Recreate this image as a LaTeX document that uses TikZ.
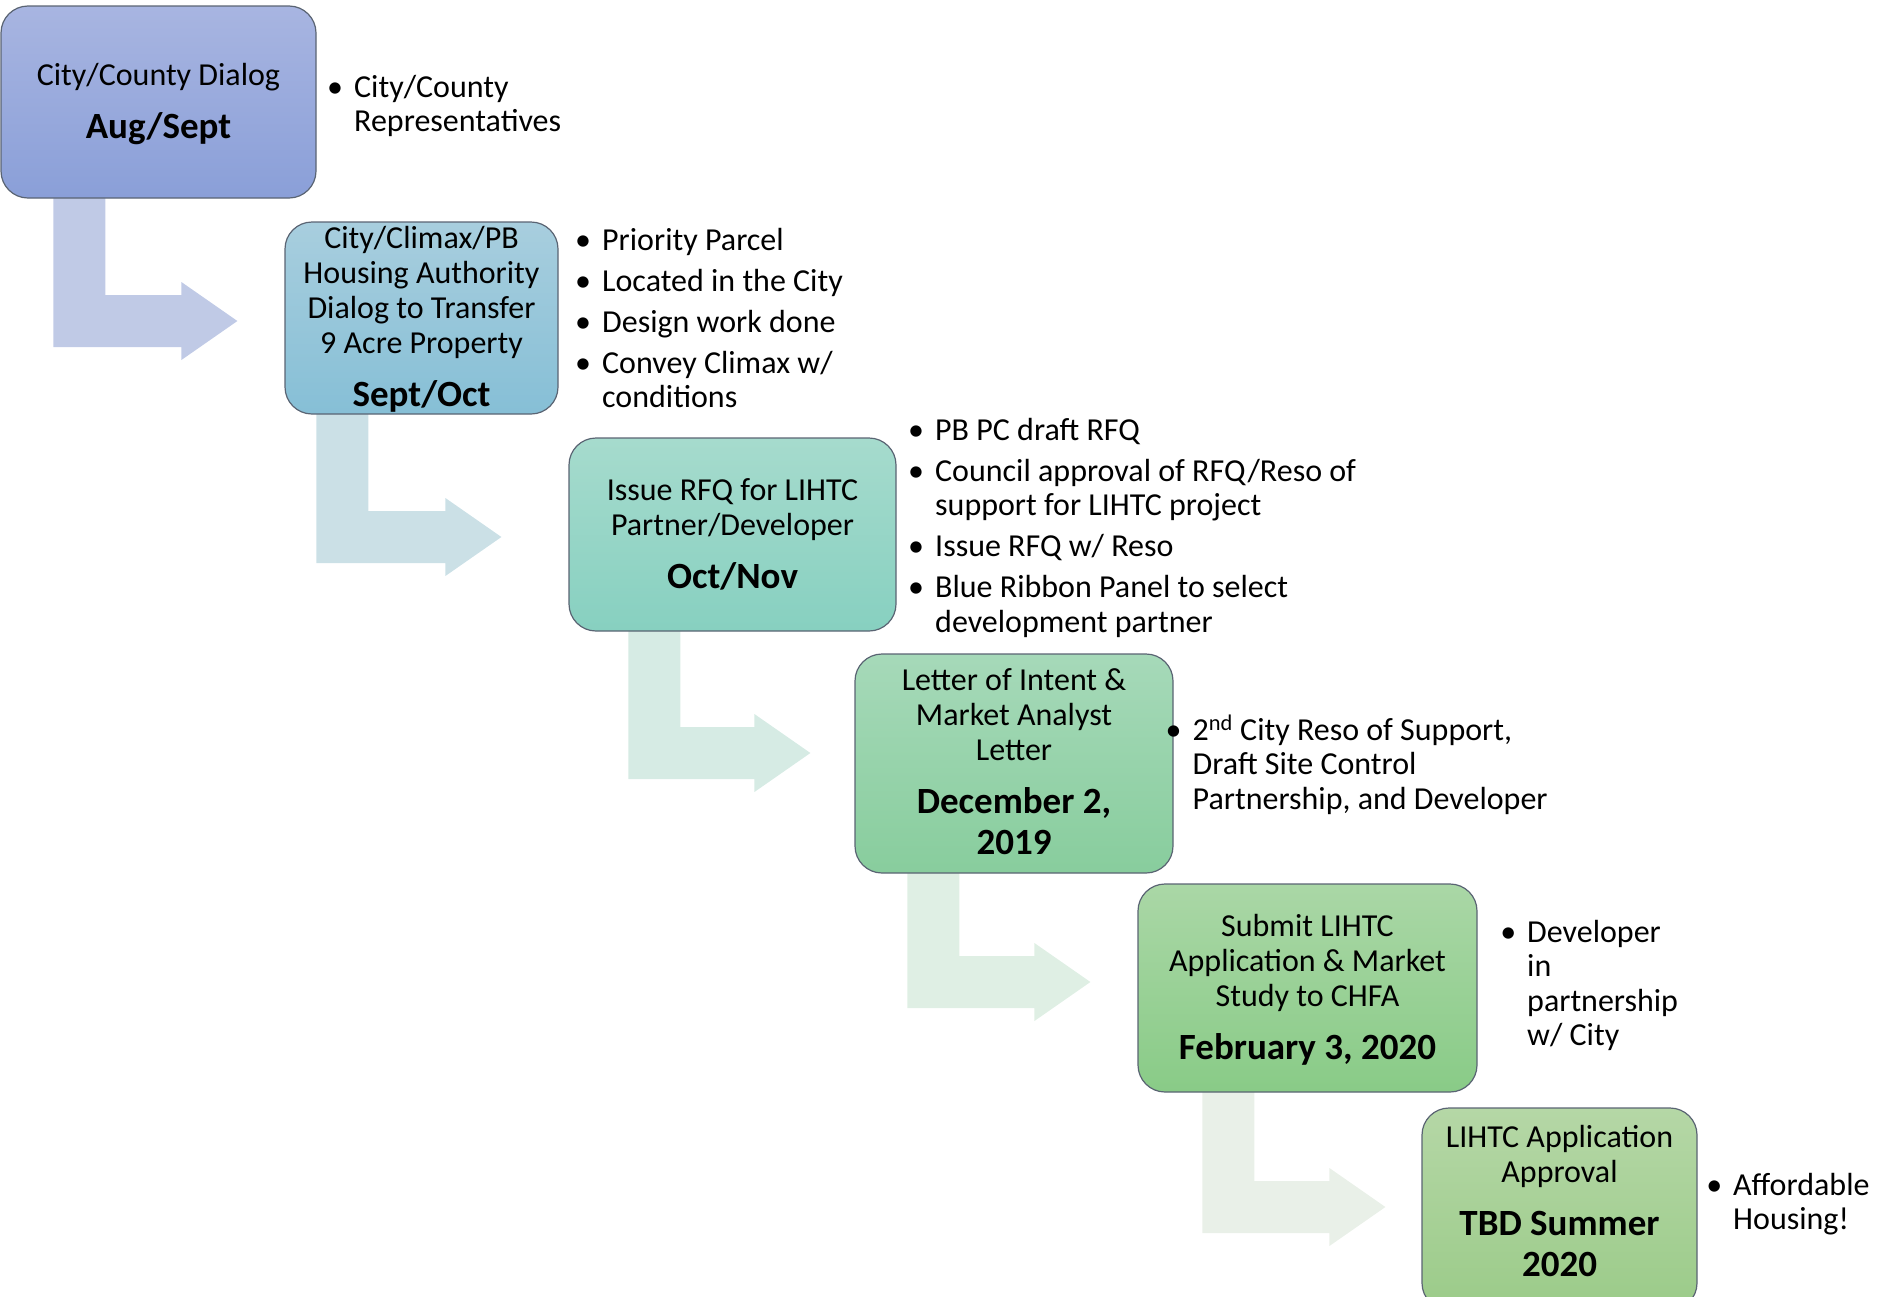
\documentclass[tikz,border=0pt]{standalone}
\usepackage{fontspec}
\setmainfont{Carlito}
\usetikzlibrary{calc}

% stage box fills (top / bottom of the vertical gradient)
\definecolor{bonetop}{RGB}{168,181,225}
\definecolor{bonebot}{RGB}{138,159,216}
\definecolor{btwotop}{RGB}{168,206,222}
\definecolor{btwobot}{RGB}{134,191,214}
\definecolor{bthreetop}{RGB}{166,219,205}
\definecolor{bthreebot}{RGB}{135,208,192}
\definecolor{bfourtop}{RGB}{166,217,185}
\definecolor{bfourbot}{RGB}{136,205,157}
\definecolor{bfivetop}{RGB}{170,215,166}
\definecolor{bfivebot}{RGB}{137,203,135}
\definecolor{bsixtop}{RGB}{181,215,166}
\definecolor{bsixbot}{RGB}{155,203,137}
\definecolor{edgegray}{RGB}{90,100,115}
% elbow arrow fills
\definecolor{arrone}{RGB}{192,202,230}
\definecolor{arrtwo}{RGB}{203,224,230}
\definecolor{arrthree}{RGB}{214,235,228}
\definecolor{arrfour}{RGB}{223,239,228}
\definecolor{arrfive}{RGB}{233,240,232}

\pgfdeclarelayer{background}
\pgfsetlayers{background,main}

\tikzset{
  stage/.style={rectangle, draw=edgegray, line width=1.2pt, rounded corners=27pt, inner sep=0pt},
  stagetext/.style={anchor=base, inner sep=0pt, text=black},
  notes/.style={anchor=base west, inner sep=0pt, text=black},
}

% centred box caption: regular lines, then the bold date
\newcommand{\stagelines}[3]{\parbox[t]{#1}{\centering\fontsize{32}{35}\selectfont #2\par\vspace{12pt}\fontsize{37}{41}\selectfont\bfseries #3}}
% bullet with hanging text
\newcommand{\bul}{\makebox[19pt][l]{\makebox[0pt]{•}}}
\newcommand{\nob}{\hspace*{19pt}}
\newcommand{\notelist}[1]{\fontsize{32}{34.5}\selectfont\begin{tabular}[t]{@{}l@{}}#1\end{tabular}}
% bent block arrow from stem top-left (#1) to tip (#2)
\newcommand{\stagearrow}[3]{\fill[#3] (#1) -- ++(52,0) |- ($(#2)+(-56,-26)$) -- ++(0,-13) -- (#2) -- ++(-56,39) -- ++(0,-13) -| (#1) -- cycle;}

\begin{document}
\begin{tikzpicture}[x=1pt,y=-1pt]
\useasboundingbox (0,0) rectangle (1886,1296);

% stage boxes
\node[stage, top color=bonetop, bottom color=bonebot, minimum width=315pt, minimum height=192pt] (b1) at (158.5,102) {};
\node[stage, top color=btwotop, bottom color=btwobot, minimum width=273pt, minimum height=192pt] (b2) at (421.5,318) {};
\node[stage, top color=bthreetop, bottom color=bthreebot, minimum width=327pt, minimum height=193pt] (b3) at (732.5,534.5) {};
\node[stage, top color=bfourtop, bottom color=bfourbot, minimum width=318pt, minimum height=219pt] (b4) at (1014,763.5) {};
\node[stage, top color=bfivetop, bottom color=bfivebot, minimum width=339pt, minimum height=208pt] (b5) at (1307.5,988) {};
\node[stage, top color=bsixtop, bottom color=bsixbot, minimum width=275pt, minimum height=202pt] (b6) at (1559.5,1209) {};

% captions inside the boxes
\node[stagetext] (t1) at (158.5,85) {\stagelines{300pt}{City/County Dialog}{Aug/Sept}};
\node[stagetext] (t2) at (421.5,248) {\stagelines{270pt}{City/Climax/PB\\Housing Authority\\Dialog to Transfer\\9 Acre Property}{Sept/Oct}};
\node[stagetext] (t3) at (732.5,500) {\stagelines{310pt}{Issue RFQ for LIHTC\\Partner/Developer}{Oct/Nov}};
\node[stagetext] (t4) at (1014,690) {\stagelines{300pt}{Letter of Intent \&\\Market Analyst\\Letter}{December 2,\\2019}};
\node[stagetext] (t5) at (1307.5,936) {\stagelines{330pt}{Submit LIHTC\\Application \& Market\\Study to CHFA}{February 3, 2020}};
\node[stagetext] (t6) at (1559.5,1147) {\stagelines{270pt}{LIHTC Application\\Approval}{TBD Summer\\2020}};

% notes beside each stage
\node[notes] (n1) at (335,97) {\notelist{\bul City/County\\ \nob Representatives}};
\node[notes] (n2) at (583,250) {\notelist{\bul Priority Parcel\\[6.5pt] \bul Located in the City\\[6.5pt] \bul Design work done\\[6.5pt] \bul Convey Climax w/\\ \nob conditions}};
\node[notes] (n3) at (916,440) {\notelist{\bul PB PC draft RFQ\\[6.5pt] \bul Council approval of RFQ/Reso of\\ \nob support for LIHTC project\\[6.5pt] \bul Issue RFQ w/ Reso\\[6.5pt] \bul Blue Ribbon Panel to select\\ \nob development partner}};
\node[notes] (n4) at (1173.5,740) {\notelist{\bul 2\textsuperscript{nd} City Reso of Support,\\ \nob Draft Site Control\\ \nob Partnership, and Developer}};
\node[notes] (n5) at (1508,942) {\notelist{\bul Developer\\ \nob in\\ \nob partnership\\ \nob w/ City}};
\node[notes] (n6) at (1714,1195) {\notelist{\bul Affordable\\ \nob Housing!}};

% elbow arrows between consecutive stages, behind the boxes
\begin{pgfonlayer}{background}
  \path ($(b1.south west)+(53,-4)$) coordinate (s1) ($(b2.west)+(-47,3)$) coordinate (e1);
  \path ($(b2.south west)+(32,-4)$) coordinate (s2) ($(b3.west)+(-67,2.5)$) coordinate (e2);
  \path ($(b3.south west)+(60,-4)$) coordinate (s3) ($(b4.west)+(-44,-10.5)$) coordinate (e3);
  \path ($(b4.south west)+(53,-4)$) coordinate (s4) ($(b5.west)+(-47,-6)$) coordinate (e4);
  \path ($(b5.south west)+(65,-4)$) coordinate (s5) ($(b6.west)+(-36,-2)$) coordinate (e5);
  \stagearrow{s1}{e1}{arrone}
  \stagearrow{s2}{e2}{arrtwo}
  \stagearrow{s3}{e3}{arrthree}
  \stagearrow{s4}{e4}{arrfour}
  \stagearrow{s5}{e5}{arrfive}
\end{pgfonlayer}
\end{tikzpicture}
\end{document}
